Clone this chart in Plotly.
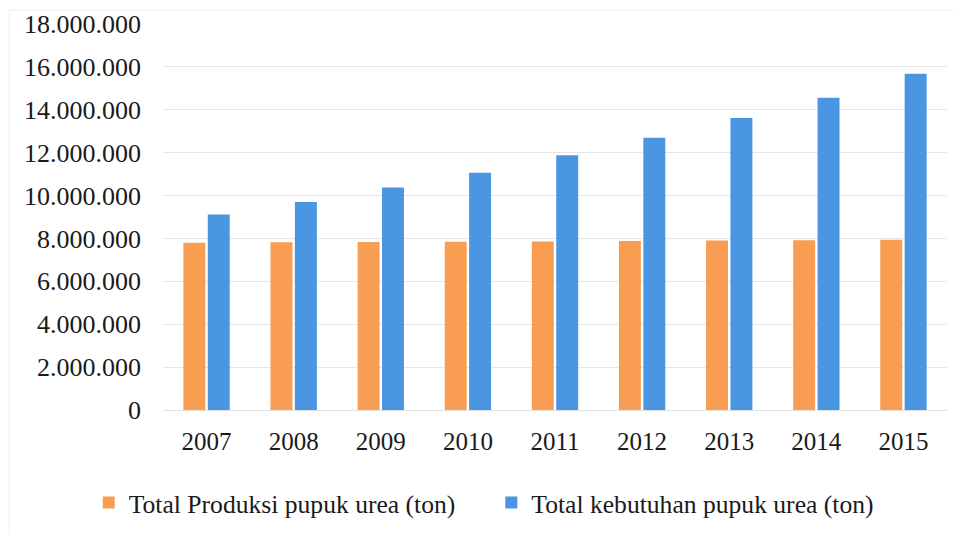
import plotly.graph_objects as go

years = ["2007", "2008", "2009", "2010", "2011", "2012", "2013", "2014", "2015"]
produksi = [7800000, 7820000, 7830000, 7850000, 7860000, 7880000, 7900000, 7920000, 7940000]
kebutuhan = [9120000, 9700000, 10380000, 11060000, 11880000, 12700000, 13620000, 14560000, 15680000]
name_produksi = "Total Produksi pupuk urea (ton)"
name_kebutuhan = "Total kebutuhan pupuk urea (ton)"
y_ticks = list(range(0, 18000001, 2000000))

FONT = "Liberation Serif, Times New Roman, serif"

fig = go.Figure()
fig.add_trace(go.Bar(x=years, y=produksi, name=name_produksi, legend="legend",
                     marker=dict(color="#F99D52", line=dict(width=0))))
fig.add_trace(go.Bar(x=years, y=kebutuhan, name=name_kebutuhan, legend="legend2",
                     marker=dict(color="#4A96E2", line=dict(width=0))))

legend_common = dict(orientation="h", xref="container", yref="container",
                     xanchor="left", y=0.06, yanchor="middle",
                     font=dict(family=FONT, size=25.6, color="#1a1a1a"),
                     bgcolor="rgba(0,0,0,0)", itemwidth=30)

fig.update_layout(
    width=954, height=535,
    margin=dict(l=163, r=7, t=24, b=125),
    paper_bgcolor="white", plot_bgcolor="white",
    barmode="group", bargap=0.44, bargroupgap=0.1,
    separators=",.",
    font=dict(family=FONT, size=25, color="#1a1a1a"),
    showlegend=True,
    legend=dict(x=0.093, **legend_common),
    legend2=dict(x=0.515, **legend_common),
    shapes=[dict(type="rect", xref="paper", yref="paper",
                 x0=-0.196, x1=1.01, y0=-0.34, y1=1.036,
                 line=dict(color="#EEEEEE", width=1), layer="below")],
)
fig.update_xaxes(showgrid=False, showline=False, zeroline=False,
                 tickfont=dict(family=FONT, size=25), ticklabelstandoff=14)
fig.update_yaxes(range=[0, 18000000], tickvals=y_ticks, tickformat=",d",
                 showgrid=True, gridcolor="#E6E6E6", gridwidth=1,
                 zeroline=True, zerolinecolor="#E0E0E0", zerolinewidth=1,
                 showline=False, tickfont=dict(family=FONT, size=26),
                 ticklabelstandoff=21)

fig.write_html("out.html")
